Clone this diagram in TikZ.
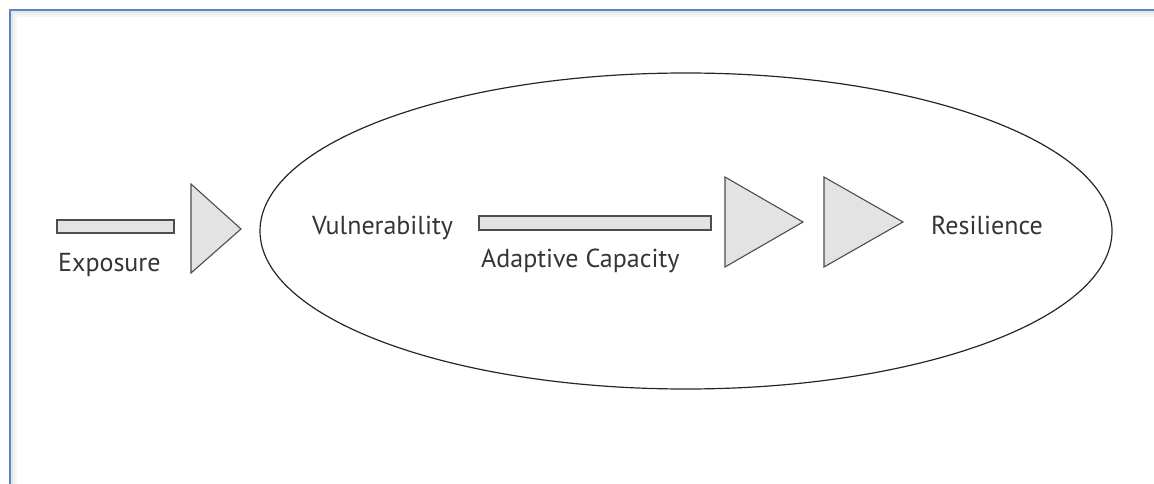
\documentclass[tikz,border=0pt]{standalone}
\usepackage{fontspec}
\setmainfont{PT Sans}
\definecolor{framecol}{HTML}{5B87C9}
\definecolor{inkcol}{HTML}{353535}
\definecolor{barfill}{HTML}{E3E3E3}
\definecolor{barline}{HTML}{4D4D4D}
\tikzset{
  frameline/.style={draw=framecol, line width=2pt},
  bar/.style={draw=barline, fill=barfill, line width=1.1pt, inner sep=0pt, minimum height=13pt},
  head/.style={draw=barline, fill=barfill, line width=1.1pt, line join=miter},
  lbl/.style={text=inkcol, font=\fontsize{26}{30}\selectfont, inner sep=0pt, anchor=base west},
  oval/.style={draw=black!85, line width=1.2pt}
}
\begin{document}
\begin{tikzpicture}[x=1pt, y=-1pt]
\useasboundingbox (0,0) rectangle (1154,484);
% soft shadow along the frame
\foreach \d/\o in {2/0.10, 4/0.06, 6/0.03} {
  \draw[black, opacity=\o, line width=2pt] (10+\d,484) -- (10+\d,10+\d) -- (1154,10+\d);
}
% frame
\draw[frameline] (10,484) -- (10,10) -- (1154,10);

% enclosing ellipse
\draw[oval] (686,231) ellipse [x radius=426, y radius=158];

% exposure arrow
\node[bar, minimum width=117pt] (expbar) at (115.5,226.5) {};
\draw[head] (191,184) coordinate (h1a) -- (241,229) coordinate (h1tip) -- (191,273) coordinate (h1b) -- cycle;
\node[lbl] (exposure) at (58,271) {Exposure};

% adaptive capacity arrow
\node[bar, minimum width=232pt, minimum height=14pt] (adbar) at (595,223) {};
\draw[head] (725,177) coordinate (h2a) -- (803,222) coordinate (h2tip) -- (725,267) coordinate (h2b) -- cycle;
\draw[head] (824,177) coordinate (h3a) -- (903,222) coordinate (h3tip) -- (824,267) coordinate (h3b) -- cycle;
\node[lbl] (adaptive) at (481,267) {Adaptive Capacity};

% labels inside the ellipse
\node[lbl] (vuln) at (312,234) {Vulnerability};
\node[lbl] (resil) at (931,234) {Resilience};
\end{tikzpicture}
\end{document}
